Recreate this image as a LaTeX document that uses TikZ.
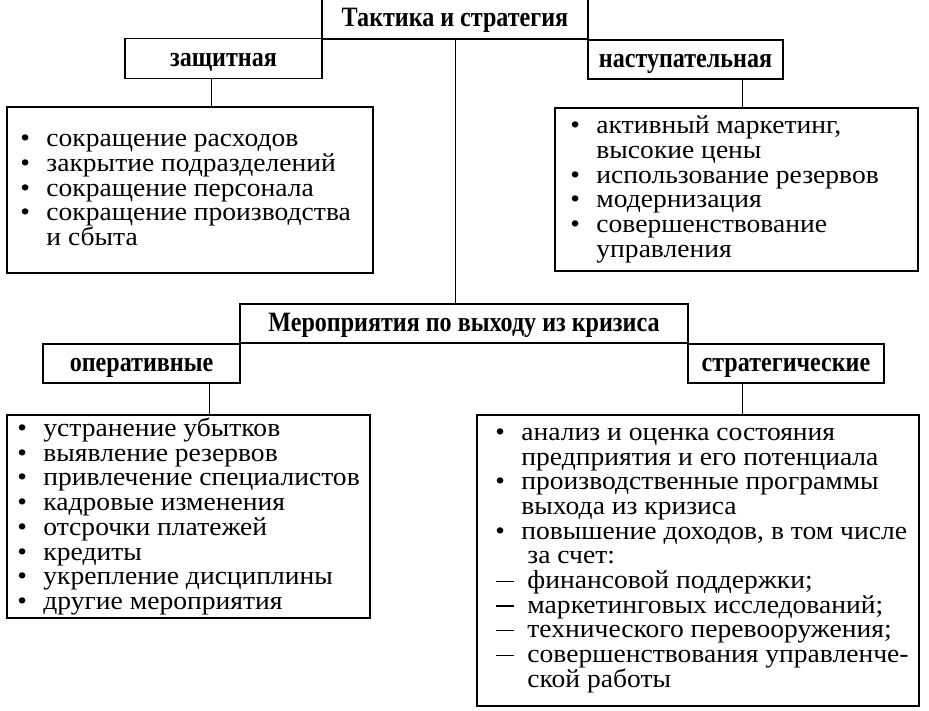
\documentclass[tikz,border=0pt]{standalone}
\usepackage{fontspec}
\setmainfont{Liberation Serif}
\newfontfamily\lstfont[FakeStretch=1.06]{Liberation Serif}
\newfontfamily\hdfont[FakeStretch=0.86]{Liberation Serif}
\newcommand\bl{\makebox[26pt][l]{\textbullet}}
\newcommand\ind{\hspace*{26pt}}
\newcommand\indd{\hspace*{32pt}}
\newcommand\dsh{\makebox[32pt][l]{\hspace*{1pt}\rule[6.5pt]{18pt}{1.3pt}}}
\begin{document}
\begin{tikzpicture}[x=1pt,y=-1pt,
  box/.style={draw, line width=1.5pt, inner sep=0pt},
  hd/.style={box, font=\fontsize{28}{30}\hdfont\bfseries, text height=15pt, text depth=0pt},
  lt/.style={align=left, inner sep=0pt, font=\fontsize{26}{24.7}\selectfont\lstfont, anchor=west},
  ln/.style={line width=1pt}]
\useasboundingbox (0,0) rectangle (929,710);
% header boxes
\node[hd, minimum width=266pt, minimum height=41pt] (top) at (455,18.5) {Тактика и стратегия};
\node[hd, minimum width=197pt, minimum height=40pt] (zashch) at (223.5,58.5) {защитная};
\node[hd, minimum width=195pt, minimum height=39pt] (nast) at (685.5,59.5) {наступательная};
\node[hd, minimum width=448pt, minimum height=39pt] (mer) at (464,323.5) {Мероприятия по выходу из кризиса};
\node[hd, minimum width=197pt, minimum height=39pt] (oper) at (141.5,363.5) {оперативные};
\node[hd, minimum width=196pt, minimum height=39pt] (strat) at (786,363.5) {стратегические};
% list boxes
\node[box, minimum width=366pt, minimum height=166pt] (defb) at (190,190) {};
\node[box, minimum width=363pt, minimum height=163pt] (offb) at (736.5,189.5) {};
\node[box, minimum width=363pt, minimum height=203pt] (lb) at (188.5,516.5) {};
\node[box, minimum width=442pt, minimum height=291pt] (rb) at (698,560.5) {};
% list texts
\node[lt] (deft) at ([xshift=14pt]defb.west) {\bl сокращение расходов\\
\bl закрытие подразделений\\
\bl сокращение персонала\\
\bl сокращение производства\\
\ind и сбыта};
\node[lt] (offt) at ([xshift=16pt]offb.west) {\bl активный маркетинг,\\
\ind высокие цены\\
\bl использование резервов\\
\bl модернизация\\
\bl совершенствование\\
\ind управления};
\node[lt] (lt1) at ([xshift=11pt]lb.west) {\bl устранение убытков\\
\bl выявление резервов\\
\bl привлечение специалистов\\
\bl кадровые изменения\\
\bl отсрочки платежей\\
\bl кредиты\\
\bl укрепление дисциплины\\
\bl другие мероприятия};
\node[lt] (rt1) at ([xshift=19pt]rb.west) {\bl анализ и оценка состояния\\
\ind предприятия и его потенциала\\
\bl производственные программы\\
\ind выхода из кризиса\\
\bl повышение доходов, в том числе\\
\indd за счет:\\
\dsh финансовой поддержки;\\
\dsh маркетинговых исследований;\\
\dsh технического перевооружения;\\
\dsh совершенствования управленче-\\
\indd ской работы};
% connectors
\coordinate (c1) at (211,0);
\coordinate (c2) at (742,0);
\coordinate (c3) at (209,0);
\draw[ln] (top.south) -- (top.south |- mer.north);
\draw[ln] (zashch.south -| c1) -- (defb.north -| c1);
\draw[ln] (nast.south -| c2) -- (offb.north -| c2);
\draw[ln] (oper.south -| c3) -- (lb.north -| c3);
\draw[ln] (strat.south -| c2) -- (rb.north -| c2);
\end{tikzpicture}
\end{document}
